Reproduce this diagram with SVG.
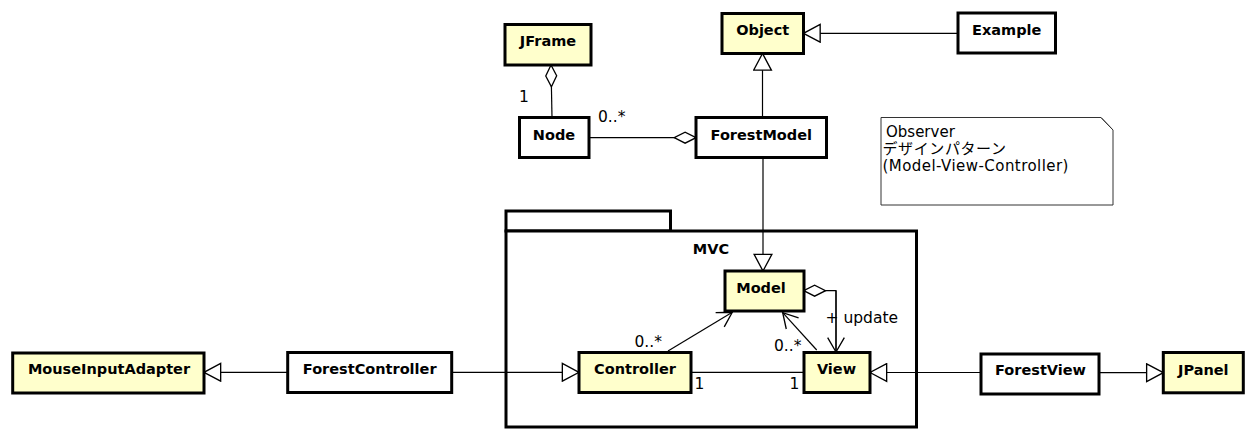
<svg xmlns="http://www.w3.org/2000/svg" width="1254" height="441" viewBox="0 0 1254 441">
<style>
.cls{stroke:#000;stroke-width:3;}
.lib{fill:#ffffcc;}
.usr{fill:#ffffff;}
.nm{font-family:"DejaVu Sans","Liberation Sans",sans-serif;font-weight:bold;font-size:14.5px;text-anchor:middle;fill:#000;}
.lb{font-family:"DejaVu Sans","Liberation Sans",sans-serif;font-size:15.5px;fill:#000;}
.nt{font-family:"DejaVu Sans","Noto Sans CJK JP",sans-serif;font-size:15px;fill:#000;}
.ln{fill:none;stroke:#000;stroke-width:1.2;}
</style>
<defs>
<marker id="tri" markerUnits="userSpaceOnUse" markerWidth="20" markerHeight="20" viewBox="-16 -9 17 18" refX="0" refY="0" orient="auto">
<path d="M0,0 L-15,-8 L-15,8 Z" fill="#fff" stroke="#000" stroke-width="1.2"/>
</marker>
<marker id="dia" markerUnits="userSpaceOnUse" markerWidth="24" markerHeight="14" viewBox="-21 -6 22 12" refX="0" refY="0" orient="auto">
<path d="M0,0 L-10,-5 L-20,0 L-10,5 Z" fill="#fff" stroke="#000" stroke-width="1.2"/>
</marker>
<marker id="open" markerUnits="userSpaceOnUse" markerWidth="20" markerHeight="20" viewBox="-15 -9 16 18" refX="0" refY="0" orient="auto">
<path d="M-13,-7.5 L0,0 L-13,7.5" fill="none" stroke="#000" stroke-width="1.2"/>
</marker>
</defs>

<g id="package-MVC">
<rect x="506" y="211" width="164.5" height="20" fill="#fff" class="cls"/>
<rect x="506" y="231" width="410.5" height="196" fill="#fff" class="cls"/>
<text x="711" y="254" class="nm">MVC</text>
</g>

<g id="note">
<path d="M881,117.5 L1101,117.5 L1113,130 L1113,205 L881,205 Z" fill="#fff" stroke="#333" stroke-width="1"/>
<path d="M1101,117.5 L1113,130" fill="none" stroke="#333" stroke-width="1"/>
<text x="886" y="136.5" class="nt">Observer</text>
<text x="882.5" y="153.5" class="nt" letter-spacing="0.6">デザインパターン</text>
<text x="882.5" y="170.5" class="nt" letter-spacing="0.45">(Model-View-Controller)</text>
</g>

<g id="connectors">
<path class="ln" d="M552,117.5 L551,65" marker-end="url(#dia)"/>
<path class="ln" d="M589,137.7 L696,137.7" marker-end="url(#dia)"/>
<path class="ln" d="M762.5,117.5 L762.5,53.5" marker-end="url(#tri)"/>
<path class="ln" d="M958,33.3 L803.5,33.3" marker-end="url(#tri)"/>
<path class="ln" d="M763,157.5 L763,271" marker-end="url(#tri)"/>
<path class="ln" d="M836,352 L836,290.7 L803.7,290.7" marker-end="url(#dia)"/>
<path class="ln" d="M836,290.7 L836,352" marker-end="url(#open)"/>
<path class="ln" d="M668,351 L732.3,312.3" marker-end="url(#open)"/>
<path class="ln" d="M816.7,350 L782.7,312.7" marker-end="url(#open)"/>
<path class="ln" d="M691,372.3 L804,372.3"/>
<path class="ln" d="M451.7,372.3 L579,372.3" marker-end="url(#tri)"/>
<path class="ln" d="M981,372.5 L870,372.5" marker-end="url(#tri)"/>
<path class="ln" d="M287.7,372.3 L204,372.3" marker-end="url(#tri)"/>
<path class="ln" d="M1099,372.7 L1163.3,372.7" marker-end="url(#tri)"/>
<text x="519" y="102" class="lb">1</text>
<text x="598" y="122" class="lb">0..*</text>
<text x="825.5" y="322.5" class="lb">+ update</text>
<text x="634.5" y="347" class="lb">0..*</text>
<text x="774" y="350.5" class="lb">0..*</text>
<text x="694.5" y="388.5" class="lb">1</text>
<text x="789.5" y="388.5" class="lb">1</text>
</g>

<g id="JFrame"><rect x="505" y="24.5" width="86" height="40.5" class="cls lib"/><text x="548" y="46" class="nm">JFrame</text></g>
<g id="Object"><rect x="722" y="13.5" width="81.5" height="40" class="cls lib"/><text x="762.7" y="34.5" class="nm">Object</text></g>
<g id="Example"><rect x="958" y="13" width="97.5" height="40" class="cls usr"/><text x="1006.7" y="34.5" class="nm">Example</text></g>
<g id="Node"><rect x="519.5" y="117.5" width="69.5" height="40" class="cls usr"/><text x="554" y="139.5" class="nm">Node</text></g>
<g id="ForestModel"><rect x="696" y="117.5" width="130.5" height="40" class="cls usr"/><text x="761.3" y="139.5" class="nm">ForestModel</text></g>
<g id="Model"><rect x="725" y="271" width="79" height="40" class="cls lib"/><text x="761" y="293" class="nm">Model</text></g>
<g id="Controller"><rect x="579" y="352.5" width="112" height="40" class="cls lib"/><text x="635" y="374" class="nm">Controller</text></g>
<g id="View"><rect x="804" y="352.5" width="66" height="40" class="cls lib"/><text x="836.5" y="374" class="nm">View</text></g>
<g id="MouseInputAdapter"><rect x="12.7" y="353" width="191.3" height="40" class="cls lib"/><text x="109" y="374" class="nm">MouseInputAdapter</text></g>
<g id="ForestController"><rect x="287.7" y="352.5" width="164" height="40" class="cls usr"/><text x="369.7" y="374" class="nm">ForestController</text></g>
<g id="ForestView"><rect x="981" y="354" width="118" height="40" class="cls usr"/><text x="1040.5" y="374.5" class="nm">ForestView</text></g>
<g id="JPanel"><rect x="1163.3" y="352.5" width="80" height="40.3" class="cls lib"/><text x="1203.3" y="374.5" class="nm">JPanel</text></g>
</svg>
